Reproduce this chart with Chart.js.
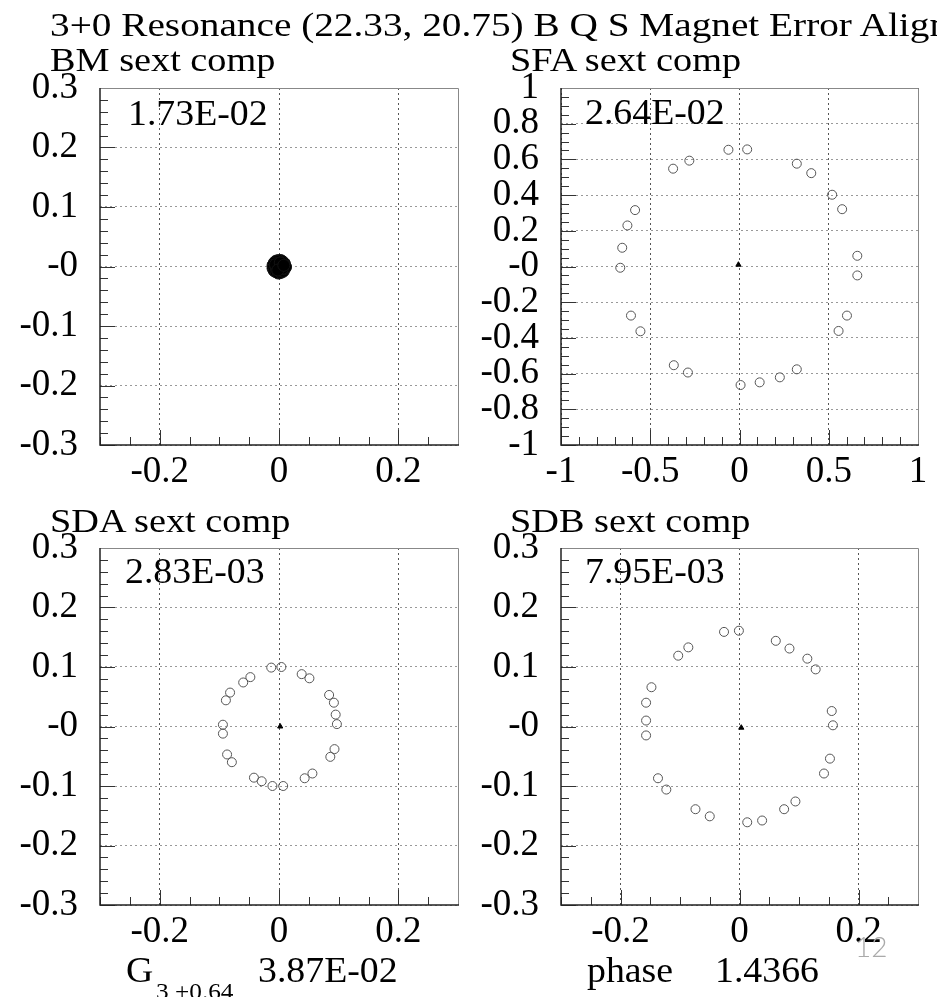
<!DOCTYPE html>
<html>
<head>
<meta charset="utf-8">
<script src="https://cdn.jsdelivr.net/npm/chart.js@4.4.1/dist/chart.umd.min.js"></script>
<style>
    body { margin: 0; background: #fff; width: 951px; height: 997px; overflow: hidden; position: relative; font-family: "Liberation Serif", serif; }
    canvas { position: absolute; }
    .txt { position: absolute; white-space: nowrap; line-height: 1; color: #000; transform-origin: 0 0; z-index: 2; }
    .corte { position: absolute; left: 50px; top: 6px; width: 887px; height: 44px; overflow: hidden; z-index: 2; }
</style>
</head>
<body>

<div class="corte">
    <div class="txt" style="left:0; top:3px; font-size:33px; transform:scaleX(1.19)">3+0 Resonance (22.33, 20.75) B Q S Magnet Error Alignment</div>
</div>

<div class="txt" style="left:50px; top:44px; font-size:33px; transform:scaleX(1.16)">BM sext comp</div>
<div class="txt" style="left:510px; top:44px; font-size:33px; transform:scaleX(1.16)">SFA sext comp</div>
<div class="txt" style="left:50px; top:505px; font-size:33px; transform:scaleX(1.16)">SDA sext comp</div>
<div class="txt" style="left:510px; top:505px; font-size:33px; transform:scaleX(1.16)">SDB sext comp</div>

<div class="txt" style="left:128px; top:96px; font-size:35px; transform:scaleX(1.08)">1.73E-02</div>
<div class="txt" style="left:585px; top:95px; font-size:35px; transform:scaleX(1.08)">2.64E-02</div>
<div class="txt" style="left:125px; top:554px; font-size:35px; transform:scaleX(1.08)">2.83E-03</div>
<div class="txt" style="left:585px; top:554px; font-size:35px; transform:scaleX(1.08)">7.95E-03</div>

<div class="txt" style="left:126px; top:953px; font-size:35px; transform:scaleX(1.08)">G</div>
<div class="txt" style="left:156px; top:980px; font-size:23px; transform:scaleX(1.1)">3,+0.64</div>
<div class="txt" style="left:258px; top:953px; font-size:35px; transform:scaleX(1.08)">3.87E-02</div>
<div class="txt" style="left:587px; top:953px; font-size:35px; transform:scaleX(1.08)">phase</div>
<div class="txt" style="left:715px; top:953px; font-size:35px; transform:scaleX(1.08)">1.4366</div>
<div class="txt" style="left:855px; top:932px; font-size:28px; color:#aaa; font-family:Lato, 'Liberation Sans', sans-serif; font-weight:300">12</div>

<canvas id="graficoBM" width="475" height="460" style="left:0; top:40px"></canvas>
<canvas id="graficoSFA" width="476" height="460" style="left:475px; top:40px"></canvas>
<canvas id="graficoSDA" width="475" height="460" style="left:0; top:500px"></canvas>
<canvas id="graficoSDB" width="476" height="460" style="left:475px; top:500px"></canvas>

<script>
// BM sext comp: os pontos ficam todos amontoados junto à origem
var bmX = [0.010, 0.009, 0.006, 0.003, -0.001, -0.005, -0.008, -0.010, -0.010, -0.008, -0.005, -0.001,
           0.003, 0.007, 0.009, 0.011, 0.004, -0.004, 0.000, 0.006, -0.006, 0.002, -0.002, 0.008];
var bmY = [0.001, 0.005, 0.008, 0.010, 0.010, 0.009, 0.006, 0.002, -0.003, -0.007, -0.009, -0.011,
           -0.010, -0.008, -0.004, -0.001, 0.004, -0.004, 0.000, -0.003, 0.003, 0.006, -0.006, 0.002];

// SFA sext comp
var sfaX = [-0.062, 0.043, -0.281, -0.372, 0.321, 0.402, 0.519, 0.575, -0.585, -0.628, -0.657, -0.668,
            0.660, 0.660, -0.608, -0.555, 0.602, 0.555, -0.368, -0.289, 0.321, 0.226, 0.113, 0.006];
var sfaY = [0.654, 0.656, 0.593, 0.548, 0.576, 0.523, 0.402, 0.321, 0.316, 0.230, 0.105, -0.007,
            0.060, -0.050, -0.275, -0.363, -0.275, -0.361, -0.553, -0.594, -0.576, -0.621, -0.649, -0.664];

// SDA sext comp
var sdaX = [-0.013, 0.004, 0.038, 0.051, -0.048, -0.060, -0.082, -0.089, 0.084, 0.092, 0.095, 0.097,
            -0.094, -0.094, -0.087, -0.079, 0.093, 0.086, -0.042, -0.029, -0.011, 0.007, 0.043, 0.056];
var sdaY = [0.099, 0.100, 0.088, 0.081, 0.083, 0.074, 0.057, 0.044, 0.053, 0.040, 0.020, 0.004,
            0.003, -0.012, -0.047, -0.060, -0.038, -0.051, -0.086, -0.092, -0.100, -0.100, -0.087, -0.079];

// SDB sext comp
var sdbX = [-0.026, -0.001, 0.061, 0.084, 0.114, 0.128, -0.086, -0.103, -0.148, -0.157, -0.157, -0.157,
            0.155, 0.157, 0.152, 0.142, -0.137, -0.123, -0.074, -0.050, 0.013, 0.038, 0.075, 0.094];
var sdbY = [0.159, 0.161, 0.144, 0.131, 0.114, 0.096, 0.133, 0.119, 0.066, 0.040, 0.010, -0.015,
            0.026, 0.002, -0.054, -0.079, -0.087, -0.106, -0.139, -0.151, -0.161, -0.158, -0.139, -0.126];

// ponto central (triângulo) de cada gráfico
var centroBM = [0.000, 0.000];
var centroSFA = [-0.006, 0.010];
var centroSDA = [0.002, 0.000];
var centroSDB = [0.003, -0.002];

// eixos
var ticksY3 = [-0.3, -0.2, -0.1, 0, 0.1, 0.2, 0.3];
var rotulosY3 = ['-0.3', '-0.2', '-0.1', '-0', '0.1', '0.2', '0.3'];
var ticksX3 = [-0.2, 0, 0.2];
var rotulosX3 = ['-0.2', '0', '0.2'];
var ticksY1 = [-1, -0.8, -0.6, -0.4, -0.2, 0, 0.2, 0.4, 0.6, 0.8, 1];
var rotulosY1 = ['-1', '-0.8', '-0.6', '-0.4', '-0.2', '-0', '0.2', '0.4', '0.6', '0.8', '1'];
var ticksX1 = [-1, -0.5, 0, 0.5, 1];
var rotulosX1 = ['-1', '-0.5', '0', '0.5', '1'];

var fonteEixo = {family: 'Liberation Serif', size: 37};

/*
 * Plugin que desenha a moldura e as marcas (maiores e menores) viradas
 * para dentro, como no ROOT.
 */
var molduraPlugin = {
    id: 'moldura',
    afterDraw: function (chart, args, opts) {
        var ctx = chart.ctx;
        var a = chart.chartArea;
        var sx = chart.scales.x;
        var sy = chart.scales.y;
        ctx.save();
        ctx.strokeStyle = '#333';
        ctx.lineWidth = 1;
        ctx.beginPath();

        var n = Math.round((sy.max - sy.min) / opts.passoY);
        for (var i = 0; i <= n; i++) {
            var v = sy.min + i * opts.passoY;
            var q = v / opts.maiorY;
            var maior = Math.abs(q - Math.round(q)) < 1e-6;
            var py = Math.round(sy.getPixelForValue(v)) + 0.5;
            ctx.moveTo(a.left, py);
            ctx.lineTo(a.left + (maior ? 15 : 8), py);
        }

        n = Math.round((sx.max - sx.min) / opts.passoX);
        for (var j = 0; j <= n; j++) {
            var w = sx.min + j * opts.passoX;
            var r = w / opts.maiorX;
            var maiorX = Math.abs(r - Math.round(r)) < 1e-6;
            var px = Math.round(sx.getPixelForValue(w)) + 0.5;
            ctx.moveTo(px, a.bottom);
            ctx.lineTo(px, a.bottom - (maiorX ? 15 : 8));
        }
        ctx.stroke();

        // lados de cima e da direita, mais claros
        ctx.strokeStyle = '#888';
        ctx.beginPath();
        ctx.moveTo(a.left, a.top + 0.5);
        ctx.lineTo(a.right + 0.5, a.top + 0.5);
        ctx.lineTo(a.right + 0.5, a.bottom);
        ctx.stroke();

        // lados da esquerda e de baixo
        ctx.strokeStyle = '#222';
        ctx.lineWidth = 1.5;
        ctx.beginPath();
        ctx.moveTo(a.left, a.top);
        ctx.lineTo(a.left, a.bottom);
        ctx.lineTo(a.right + 1, a.bottom);
        ctx.stroke();
        ctx.restore();
    }
};

function criarGrafico(id, pontosX, pontosY, centro, eixo, bolha) {
    var pontos = pontosX.map(function (x, i) { return {x: x, y: pontosY[i]}; });

    var conjunto = {
        data: pontos,
        pointStyle: 'circle',
        pointRadius: bolha ? 6 : 4.5,
        pointBorderWidth: 1,
        pointBorderColor: bolha ? '#111' : '#555',
        pointBackgroundColor: bolha ? '#000' : 'rgba(0,0,0,0)',
        showLine: false
    };
    var triangulo = {
        data: [{x: centro[0], y: centro[1]}],
        pointStyle: 'triangle',
        pointRadius: 3,
        pointBorderWidth: 1,
        pointBorderColor: '#000',
        pointBackgroundColor: '#000',
        showLine: false
    };

    return new Chart(document.getElementById(id), {
        type: 'scatter',
        data: {datasets: [conjunto, triangulo]},
        options: {
            responsive: false,
            animation: false,
            layout: {padding: {top: 48, right: eixo.dir, left: 0, bottom: 0}},
            plugins: {
                legend: {display: false},
                tooltip: {enabled: false},
                moldura: {passoY: eixo.passoY, maiorY: eixo.maiorY, passoX: eixo.passoX, maiorX: eixo.maiorX}
            },
            scales: {
                x: {
                    type: 'linear',
                    position: 'bottom',
                    min: eixo.minX,
                    max: eixo.maxX,
                    afterBuildTicks: function (s) { s.ticks = eixo.ticksX.map(function (v) { return {value: v}; }); },
                    afterFit: function (s) { s.height = 55; },
                    grid: {color: '#555', lineWidth: 1, drawTicks: false},
                    border: {display: false, dash: [2, 3]},
                    ticks: {
                        font: fonteEixo, color: '#000', padding: 5, maxRotation: 0, autoSkip: false,
                        callback: function (v, i) { return eixo.rotulosX[i]; }
                    }
                },
                y: {
                    type: 'linear',
                    position: 'left',
                    min: eixo.minY,
                    max: eixo.maxY,
                    afterBuildTicks: function (s) { s.ticks = eixo.ticksY.map(function (v) { return {value: v}; }); },
                    afterFit: function (s) { s.width = eixo.larg; },
                    grid: {color: '#999', lineWidth: 1, drawTicks: false},
                    border: {display: false, dash: [2, 3]},
                    ticks: {
                        font: fonteEixo, color: '#000', padding: 22, autoSkip: false,
                        callback: function (v, i) { return eixo.rotulosY[i]; }
                    }
                }
            }
        },
        plugins: [molduraPlugin]
    });
}

var eixoPequenoEsq = {minX: -0.3, maxX: 0.3, minY: -0.3, maxY: 0.3, ticksX: ticksX3, rotulosX: rotulosX3,
    ticksY: ticksY3, rotulosY: rotulosY3, passoY: 0.02, maiorY: 0.1, passoX: 0.05, maiorX: 0.2, larg: 100, dir: 17};
var eixoPequenoDir = {minX: -0.3, maxX: 0.3, minY: -0.3, maxY: 0.3, ticksX: ticksX3, rotulosX: rotulosX3,
    ticksY: ticksY3, rotulosY: rotulosY3, passoY: 0.02, maiorY: 0.1, passoX: 0.05, maiorX: 0.2, larg: 86, dir: 33};
var eixoGrande = {minX: -1, maxX: 1, minY: -1, maxY: 1, ticksX: ticksX1, rotulosX: rotulosX1,
    ticksY: ticksY1, rotulosY: rotulosY1, passoY: 0.05, maiorY: 0.2, passoX: 0.1, maiorX: 0.5, larg: 86, dir: 33};

criarGrafico('graficoBM', bmX, bmY, centroBM, eixoPequenoEsq, true);
criarGrafico('graficoSFA', sfaX, sfaY, centroSFA, eixoGrande, false);
criarGrafico('graficoSDA', sdaX, sdaY, centroSDA, eixoPequenoEsq, false);
criarGrafico('graficoSDB', sdbX, sdbY, centroSDB, eixoPequenoDir, false);
</script>
</body>
</html>
